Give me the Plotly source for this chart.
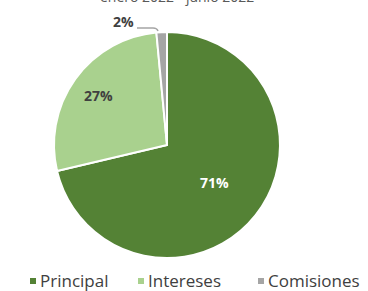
import math
import plotly.graph_objects as go

categories = ["Principal", "Intereses", "Comisiones"]
values = [71.3, 27.2, 1.5]
colors = ["#548235", "#A9D18E", "#A5A5A5"]
label_colors = ["#FFFFFF", "#404040", "#404040"]
label_radius = [0.54, 0.75, 1.2]   # label distance from centre, fraction of radius
legend_x = [30, 138, 258]           # legend marker left edges (px)
title_text = "enero 2022 - junio 2022"

W, H = 368, 291
cx, cy, R = 167, 145, 113

fig = go.Figure(go.Pie(
    labels=categories,
    values=values,
    marker=dict(colors=colors, line=dict(color="white", width=2)),
    sort=False,
    direction="clockwise",
    rotation=0,
    textinfo="none",
    showlegend=False,
    domain=dict(x=[(cx - R) / W, (cx + R) / W], y=[1 - (cy + R) / H, 1 - (cy - R) / H]),
    hoverinfo="label+percent",
))

annotations = [dict(text=title_text, x=0.48, y=1, xref="paper", yref="paper",
                    xanchor="center", yanchor="middle", yshift=4, showarrow=False,
                    font=dict(family="Open Sans", size=14, color="#595959"))]
shapes = []

total = sum(values)
cum = 0
for i, v in enumerate(values):
    mid = (cum + v / 2) / total * 2 * math.pi
    cum += v
    r = R * label_radius[i]
    px = cx + r * math.sin(mid)
    py = cy - r * math.cos(mid)
    if i == 2:
        px, py = cx - 44, cy - 123
    annotations.append(dict(
        text=f"{round(v / total * 100)}%", x=px / W, y=1 - py / H,
        xref="paper", yref="paper", xanchor="center", yanchor="middle", showarrow=False,
        font=dict(family="Open Sans", size=14, color=label_colors[i], weight="bold")))

# legend (drawn manually: small square + label)
ly = 280
for name, col, lx in zip(categories, colors, legend_x):
    shapes.append(dict(type="rect", xref="paper", yref="paper",
                       x0=lx / W, x1=(lx + 6) / W, y0=1 - (ly + 4) / H, y1=1 - (ly - 2) / H,
                       fillcolor=col, line=dict(width=0)))
    annotations.append(dict(text=name, x=(lx + 8) / W, y=1 - ly / H, xref="paper", yref="paper",
                            xanchor="left", yanchor="middle", showarrow=False,
                            font=dict(family="Open Sans", size=17, color="#404040")))

# leader line for the small slice label
shapes.append(dict(type="path", xref="paper", yref="paper",
                   path=f"M {(cx-30)/W} {1-(cy-117)/H} L {(cx-14)/W} {1-(cy-117)/H} "
                        f"Q {(cx-10)/W} {1-(cy-117)/H} {(cx-9)/W} {1-(cy-114)/H}",
                   line=dict(color="#A5A5A5", width=1.5)))

fig.update_layout(
    width=W, height=H,
    margin=dict(l=0, r=0, t=0, b=0),
    paper_bgcolor="white",
    plot_bgcolor="white",
    annotations=annotations,
    shapes=shapes,
)

fig.write_html("out.html", config={"displayModeBar": False},
               post_script="document.body.style.margin='0';document.body.style.overflow='hidden';")
